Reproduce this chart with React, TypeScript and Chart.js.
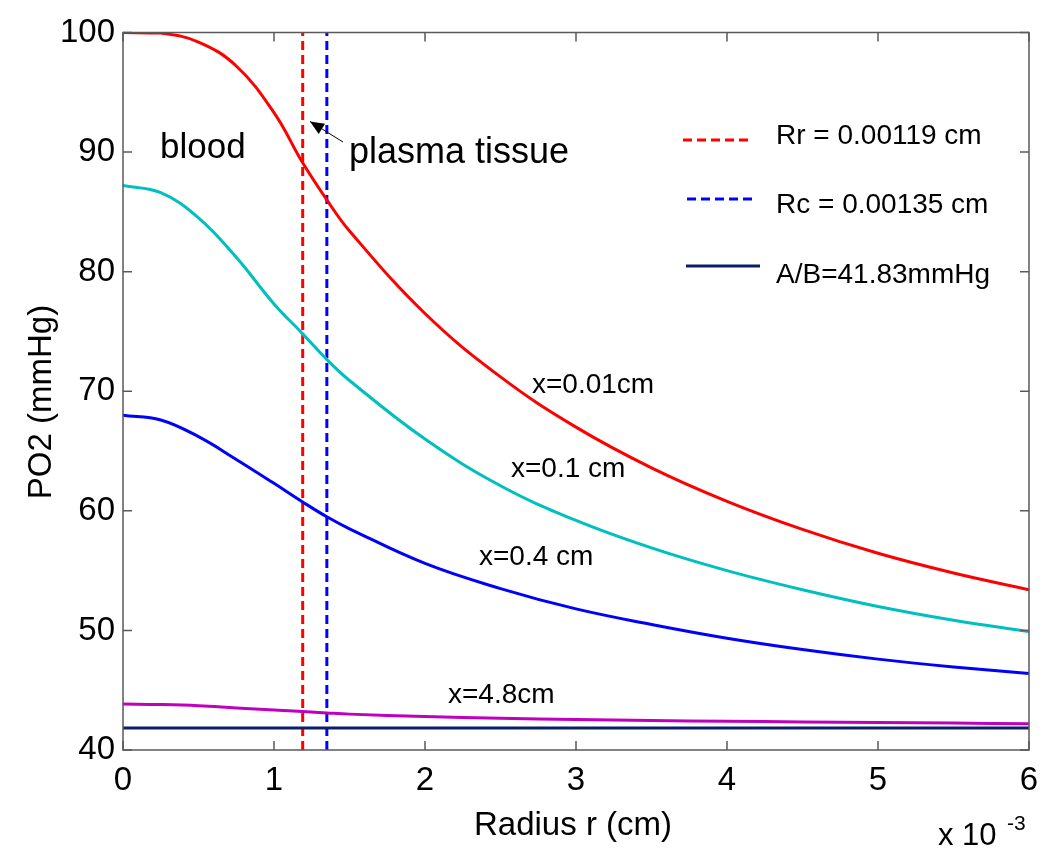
import React, { useEffect, useRef } from 'react';
import { Chart, registerables } from 'chart.js';

Chart.register(...registerables);

// ---- data (radius in units of 1e-3 cm, PO2 in mmHg) ----
const radius = [0, 0.25, 0.5, 0.75, 1.0, 1.19, 1.35, 1.5, 2, 2.5, 3, 3.5, 4, 4.5, 5, 5.5, 6];
const po2X001 = [100, 99.95, 99.2, 97.2, 93.3, 89.1, 86.0, 83.4, 76.5, 71.2, 67.0, 63.6, 60.8, 58.45, 56.45, 54.8, 53.4];
const po2X01 = [87.2, 86.6, 84.5, 81.2, 77.3, 74.8, 72.65, 70.9, 66.0, 62.1, 59.2, 56.9, 55.0, 53.4, 52.0, 50.85, 49.9];
const po2X04 = [68.0, 67.6, 66.2, 64.3, 62.3, 60.74, 59.5, 58.5, 55.6, 53.5, 51.8, 50.5, 49.35, 48.4, 47.6, 46.95, 46.4];
const po2X48 = [43.85, 43.8, 43.7, 43.52, 43.35, 43.22, 43.1, 43.0, 42.8, 42.65, 42.55, 42.47, 42.4, 42.35, 42.3, 42.25, 42.2];
const rrRadius = 1.19;
const rcRadius = 1.35;
const abLevel = 41.83;
const xTickValues = [0, 1, 2, 3, 4, 5, 6];
const yTickValues = [40, 50, 60, 70, 80, 90, 100];
const curveLabels = ['x=0.01cm', 'x=0.1 cm', 'x=0.4 cm', 'x=4.8cm'];
const legendLabels = ['Rr = 0.00119 cm', 'Rc = 0.00135 cm', 'A/B=41.83mmHg'];

const FONT = "'Liberation Sans', Arial, Helvetica, sans-serif";
const RED = '#ff0000';
const CYAN = '#00bfbf';
const BLUE = '#0000ff';
const MAGENTA = '#bf00bf';
const NAVY = '#0b1f66';
const AXIS = '#5a5a5a';

const toPts = (ys: number[]) => radius.map((r, i) => ({ x: r, y: ys[i] }));

const decorPlugin = {
  id: 'decor',
  afterDatasetsDraw(chart: any) {
    const { ctx, chartArea: a, scales } = chart;
    const xs = scales.x;
    const ys = scales.y;
    ctx.save();
    // frame
    ctx.strokeStyle = AXIS;
    ctx.lineWidth = 1.5;
    ctx.strokeRect(a.left, a.top, a.right - a.left, a.bottom - a.top);
    // inward ticks on all four sides
    const tl = 9;
    ctx.beginPath();
    xTickValues.forEach((v) => {
      const px = xs.getPixelForValue(v);
      ctx.moveTo(px, a.bottom);
      ctx.lineTo(px, a.bottom - tl);
      ctx.moveTo(px, a.top);
      ctx.lineTo(px, a.top + tl);
    });
    yTickValues.forEach((v) => {
      const py = ys.getPixelForValue(v);
      ctx.moveTo(a.left, py);
      ctx.lineTo(a.left + tl, py);
      ctx.moveTo(a.right, py);
      ctx.lineTo(a.right - tl, py);
    });
    ctx.stroke();

    // legend (inside plot, upper right)
    const legendItems = [
      { label: legendLabels[0], color: RED, dash: [9, 5], x0: 683, x1: 753, ly: 140, ty: 144 },
      { label: legendLabels[1], color: BLUE, dash: [9, 5], x0: 687, x1: 757, ly: 199, ty: 213 },
      { label: legendLabels[2], color: NAVY, dash: [], x0: 686, x1: 760, ly: 266, ty: 283 },
    ];
    legendItems.forEach((it) => {
      ctx.strokeStyle = it.color;
      ctx.lineWidth = 3;
      ctx.setLineDash(it.dash);
      ctx.beginPath();
      ctx.moveTo(it.x0, it.ly);
      ctx.lineTo(it.x1, it.ly);
      ctx.stroke();
      ctx.setLineDash([]);
      ctx.fillStyle = '#000';
      ctx.font = `28px ${FONT}`;
      ctx.textAlign = 'left';
      ctx.textBaseline = 'alphabetic';
      ctx.fillText(it.label, 776, it.ty);
    });

    // annotations
    ctx.fillStyle = '#000';
    ctx.textAlign = 'left';
    ctx.textBaseline = 'alphabetic';
    ctx.font = `35px ${FONT}`;
    ctx.fillText('blood', 160, 158);
    ctx.font = `36px ${FONT}`;
    ctx.fillText('plasma tissue', 349, 163);
    ctx.font = `28px ${FONT}`;
    ctx.fillText(curveLabels[0], 532, 393);
    ctx.fillText(curveLabels[1], 511, 477);
    ctx.fillText(curveLabels[2], 479, 565);
    ctx.fillText(curveLabels[3], 448, 703);

    // arrow
    const tx = 310, ty = 121.5, fx = 343, fy = 142;
    ctx.strokeStyle = '#000';
    ctx.lineWidth = 1;
    ctx.beginPath();
    ctx.moveTo(fx, fy);
    ctx.lineTo(tx, ty);
    ctx.stroke();
    const ang = Math.atan2(ty - fy, tx - fx);
    const hl = 14, hw = 6;
    const bx = tx - hl * Math.cos(ang), by = ty - hl * Math.sin(ang);
    ctx.beginPath();
    ctx.moveTo(tx, ty);
    ctx.lineTo(bx + hw * Math.sin(ang), by - hw * Math.cos(ang));
    ctx.lineTo(bx - hw * Math.sin(ang), by + hw * Math.cos(ang));
    ctx.closePath();
    ctx.fill();

    // axis titles
    ctx.font = `33px ${FONT}`;
    ctx.textAlign = 'center';
    ctx.fillText('Radius r (cm)', 573, 835);
    ctx.save();
    ctx.translate(51, 402);
    ctx.rotate(-Math.PI / 2);
    ctx.fillText('PO2 (mmHg)', 0, 0);
    ctx.restore();

    // exponent
    ctx.textAlign = 'left';
    ctx.font = `31px ${FONT}`;
    ctx.fillText('x 10', 938, 845);
    ctx.font = `21px ${FONT}`;
    ctx.fillText('-3', 1007, 830);
    ctx.restore();
  },
};

export default function App() {
  const ref = useRef<HTMLCanvasElement | null>(null);
  useEffect(() => {
    document.body.style.margin = '0';
    const canvas = ref.current!;
    const curve = { borderWidth: 3, pointRadius: 0, tension: 0.4 };
    const chart = new Chart(canvas, {
      type: 'line',
      data: {
        datasets: [
          { label: curveLabels[0], data: toPts(po2X001), borderColor: RED, ...curve },
          { label: curveLabels[1], data: toPts(po2X01), borderColor: CYAN, ...curve },
          { label: curveLabels[2], data: toPts(po2X04), borderColor: BLUE, ...curve },
          { label: curveLabels[3], data: toPts(po2X48), borderColor: MAGENTA, ...curve },
          { label: legendLabels[2], data: [{ x: 0, y: abLevel }, { x: 6, y: abLevel }], borderColor: NAVY, borderWidth: 3, pointRadius: 0 },
          { label: legendLabels[0], data: [{ x: rrRadius, y: 40 }, { x: rrRadius, y: 100 }], borderColor: RED, borderWidth: 3, borderDash: [9, 5], pointRadius: 0 },
          { label: legendLabels[1], data: [{ x: rcRadius, y: 40 }, { x: rcRadius, y: 100 }], borderColor: BLUE, borderWidth: 3, borderDash: [9, 5], pointRadius: 0 },
        ] as any,
      },
      options: {
        responsive: false,
        animation: false,
        layout: { padding: { left: 0, top: 32.5, right: 21, bottom: 0 } },
        plugins: { legend: { display: false }, tooltip: { enabled: false } },
        scales: {
          x: {
            type: 'linear',
            min: 0,
            max: 6,
            grid: { display: false, drawTicks: false },
            border: { display: false },
            ticks: { stepSize: 1, color: '#000', font: { size: 33, family: FONT }, padding: 11, maxRotation: 0 },
            afterFit: (s: any) => { s.height = 98; },
          },
          y: {
            type: 'linear',
            min: 40,
            max: 100,
            grid: { display: false, drawTicks: false },
            border: { display: false },
            ticks: { stepSize: 10, color: '#000', font: { size: 33, family: FONT }, padding: 8 },
            afterFit: (s: any) => { s.width = 123; },
          },
        },
      },
      plugins: [decorPlugin],
    });
    return () => chart.destroy();
  }, []);
  return <canvas ref={ref} width={1050} height={848} style={{ display: 'block' }} />;
}
